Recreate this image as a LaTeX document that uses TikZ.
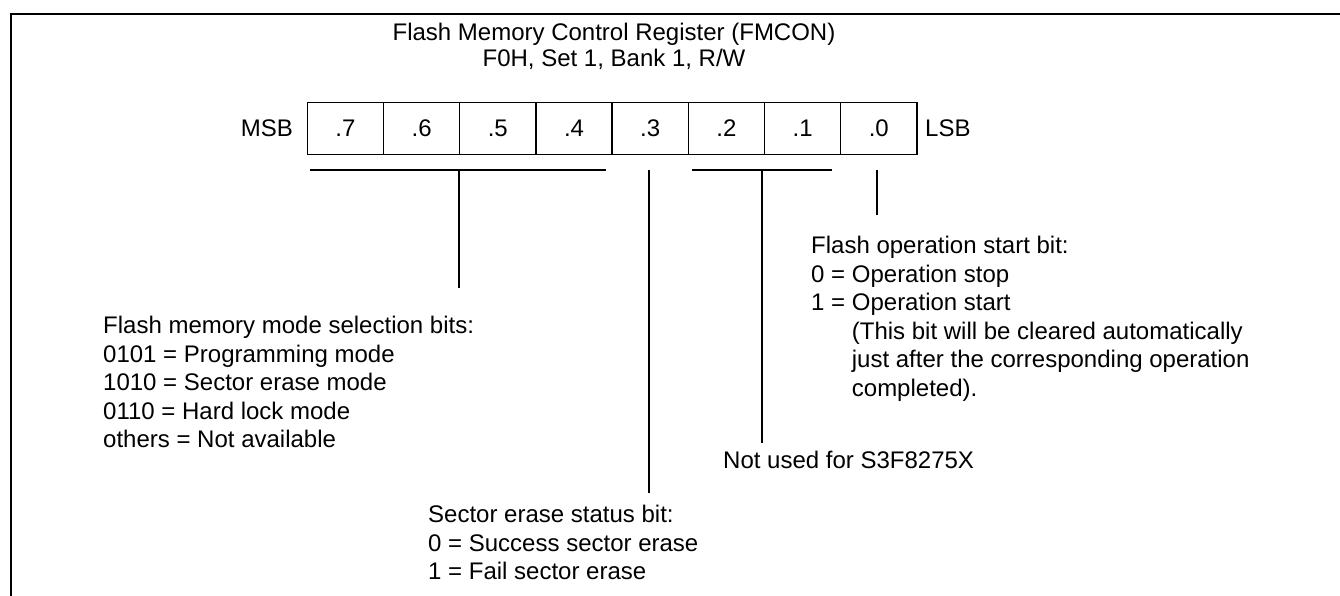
\documentclass[tikz,border=0pt]{standalone}
\usepackage{fontspec}
\setmainfont{Liberation Sans}
\usetikzlibrary{calc,positioning}

\tikzset{
  regcell/.style={draw,line width=1.3pt,minimum width=76.2pt,minimum height=52.4pt,inner sep=0pt,
    font=\fontsize{24}{28.5}\selectfont},
  lbl/.style={inner sep=0pt,font=\fontsize{24}{28.5}\selectfont,align=left},
  tick/.style={line width=1.1pt},
}

\begin{document}
\begin{tikzpicture}[x=1pt,y=-1pt]
\useasboundingbox (0,0) rectangle (1340,596);
\draw[line width=2pt] (11,597)--(11,14)--(1341,14);
% title
\node[lbl,align=center,anchor=north,font=\fontsize{24}{26}\selectfont] (title) at (614,23)
  {Flash Memory Control Register (FMCON)\\F0H, Set 1, Bank 1, R/W};
% register bits
\foreach \i [count=\k from 0] in {7,...,0}
  \node[regcell] (b\i) at ({307.3+76.2*\k+38.1},128.5) {.\i};
\node[lbl,anchor=base east] (msb) at (293,137) {MSB};
\node[lbl,anchor=base west] (lsb) at (925,137) {LSB};
% descriptions
\node[lbl,anchor=north west] (modesel) at (103,316)
  {Flash memory mode selection bits:\\
   0101 = Programming mode\\
   1010 = Sector erase mode\\
   0110 = Hard lock mode\\
   others = Not available};
\node[lbl,anchor=north west] (erasest) at (428,505)
  {Sector erase status bit:\\
   0 = Success sector erase\\
   1 = Fail sector erase};
\node[lbl,anchor=north west] (notused) at (723,451) {Not used for S3F8275X};
\node[lbl,anchor=north west] (opstart) at (811,236)
  {Flash operation start bit:\\
   0 = Operation stop\\
   1 = Operation start\\
   \hspace*{40.7pt}(This bit will be cleared automatically\\
   \hspace*{40.7pt}just after the corresponding operation\\
   \hspace*{40.7pt}completed).};
% brackets
\coordinate (g7) at (310,170);
\coordinate (g4) at (606,170);
\coordinate (g74) at (459,170);
\coordinate (e74) at (459,288);
\coordinate (g3) at (649,170);
\coordinate (e3) at (649,493);
\coordinate (g2) at (691.6,170);
\coordinate (g1) at (832,170);
\coordinate (g21) at (762,170);
\coordinate (e21) at (762,443);
\coordinate (g0) at (877,170);
\coordinate (e0) at (877,215);
\draw[tick] (g7)--(g4);
\draw[tick] (g74)--(e74);
\draw[tick] (g3)--(e3);
\draw[tick] (g2)--(g1);
\draw[tick] (g21)--(e21);
\draw[tick] (g0)--(e0);
\end{tikzpicture}
\end{document}
